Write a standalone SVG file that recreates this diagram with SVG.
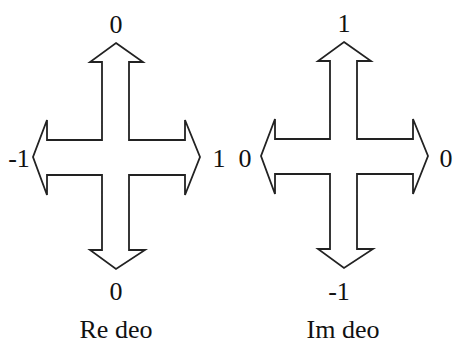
<svg xmlns="http://www.w3.org/2000/svg" width="456" height="346" viewBox="0 0 456 346">
<style>
.arrow{fill:#fff;stroke:#222;stroke-width:1.8;stroke-linejoin:miter}
.t{font-family:"Liberation Serif","Times New Roman",serif;font-size:26px;fill:#111;text-anchor:middle}
</style>
<rect width="456" height="346" fill="#fff"/>
<defs>
<path id="cross" d="M116,43 L143,62 L129,62 L129,140 L185,140 L185,120 L200,157 L185,195 L185,175 L129,175 L129,250 L145,250 L116,269 L90,250 L102,250 L102,175 L47,175 L47,195 L33,157 L47,120 L47,140 L102,140 L102,62 L90,62 Z"/>
</defs>
<g id="re">
<use href="#cross" class="arrow"/>
<text class="t" x="116" y="33">0</text>
<text class="t" x="19" y="167">-1</text>
<text class="t" x="219" y="167">1</text>
<text class="t" x="116" y="300">0</text>
<text class="t" x="116" y="338">Re deo</text>
</g>
<g id="im">
<use href="#cross" class="arrow" transform="translate(228,-1)"/>
<text class="t" x="344" y="32">1</text>
<text class="t" x="245" y="167">0</text>
<text class="t" x="446" y="167">0</text>
<text class="t" x="339" y="300">-1</text>
<text class="t" x="343" y="338">Im deo</text>
</g>
</svg>
